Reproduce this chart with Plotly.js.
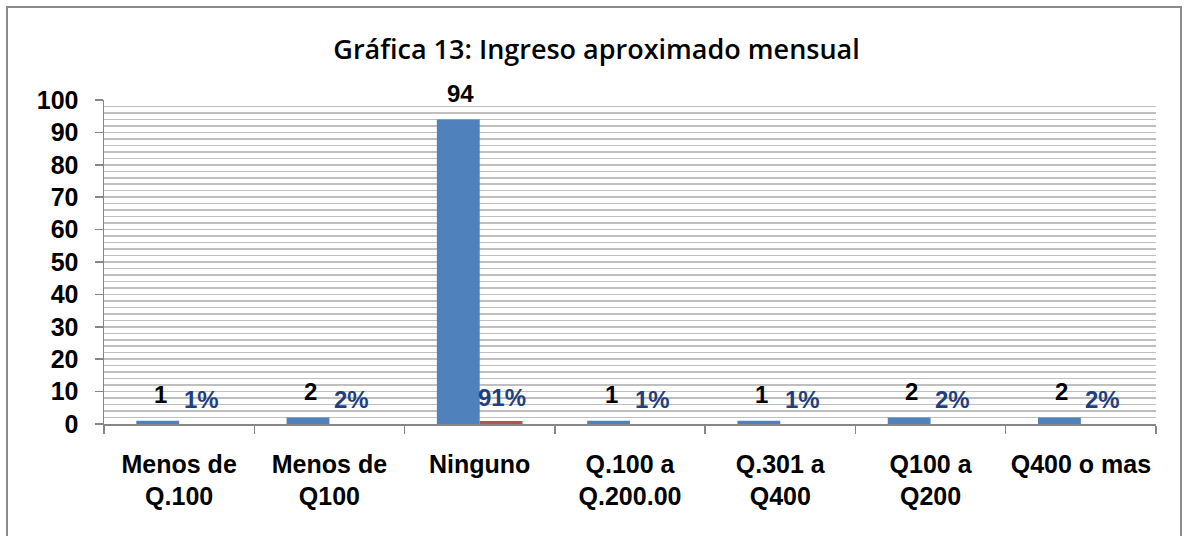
<!DOCTYPE html>
<html>
<head>
<meta charset="utf-8">
<script src="https://cdn.plot.ly/plotly-3.0.1.min.js"></script>
<style>
  html, body { margin: 0; padding: 0; background: #ffffff; }
  #frame { position: absolute; left: 6px; top: 6px; width: 1176px; height: 560px; border: 2px solid #8a8a8a; box-sizing: border-box; }
  #chart { position: absolute; left: 0; top: 0; width: 1186px; height: 536px; }
</style>
</head>
<body>
<div id="frame"></div>
<div id="chart"></div>
<script>
const categories = ["Menos de<br>Q.100", "Menos de<br>Q100", "Ninguno", "Q.100 a<br>Q.200.00", "Q.301 a<br>Q400", "Q100 a<br>Q200", "Q400 o mas"];
const counts = [1, 2, 94, 1, 1, 2, 2];
const percents = [0.01, 0.02, 0.91, 0.01, 0.01, 0.02, 0.02];
const yTicks = [0, 10, 20, 30, 40, 50, 60, 70, 80, 90, 100];

const traces = [
  { type: 'bar', name: 'Frecuencia', x: categories, y: counts, marker: { color: '#4F81BD' }, hoverinfo: 'skip' },
  { type: 'bar', name: 'Porcentaje', x: categories, y: percents, marker: { color: '#C0504D' }, hoverinfo: 'skip' }
];

const annotations = [];
categories.forEach((c, i) => {
  annotations.push({ x: c, y: counts[i], xref: 'x', yref: 'y', text: String(counts[i]), showarrow: false,
    xshift: -19, yshift: 26, yanchor: 'middle',
    font: { family: 'Liberation Sans, Arial, sans-serif', size: 24, color: '#000000', weight: 'bold' } });
  annotations.push({ x: c, y: percents[i], xref: 'x', yref: 'y', text: Math.round(percents[i] * 100) + '%', showarrow: false,
    xshift: 22, yshift: 24, yanchor: 'middle',
    font: { family: 'Liberation Sans, Arial, sans-serif', size: 24, color: '#1F3F7F', weight: 'bold' } });
});

const layout = {
  width: 1186, height: 536,
  paper_bgcolor: 'rgba(0,0,0,0)', plot_bgcolor: 'rgba(0,0,0,0)',
  margin: { l: 104, r: 30, t: 100, b: 112 },
  showlegend: false,
  barmode: 'group', bargap: 0.43, bargroupgap: 0,
  title: { text: 'Gráfica 13: Ingreso aproximado mensual', x: 0.503, xanchor: 'center', y: 0.907, yanchor: 'middle',
    font: { family: 'Open Sans, sans-serif', size: 27, color: '#000000', weight: 600 } },
  xaxis: {
    type: 'category', tickson: 'boundaries', ticks: 'outside', ticklen: 8, tickcolor: '#868686', tickwidth: 1.5,
    showline: true, linecolor: '#868686', linewidth: 1.5, showgrid: false,
    ticklabelstandoff: 17,
    tickfont: { family: 'Liberation Sans, Arial, sans-serif', size: 25, color: '#000000', weight: 'bold' }
  },
  yaxis: {
    range: [0, 100], tickvals: yTicks, ticktext: yTicks.map(String), ticks: 'outside', ticklen: 8, tickcolor: '#868686', tickwidth: 1.5,
    showline: true, linecolor: '#868686', linewidth: 1.5,
    showgrid: true, gridcolor: '#BFBFBF', gridwidth: 1.5, zeroline: false,
    minor: { dtick: 2, showgrid: true, gridcolor: '#BFBFBF', gridwidth: 1.5, ticks: '' },
    ticklabelstandoff: 11,
    tickfont: { family: 'Liberation Sans, Arial, sans-serif', size: 25, color: '#000000', weight: 'bold' }
  },
  annotations: annotations
};

Plotly.newPlot('chart', traces, layout, { displayModeBar: false, staticPlot: true });
</script>
</body>
</html>
